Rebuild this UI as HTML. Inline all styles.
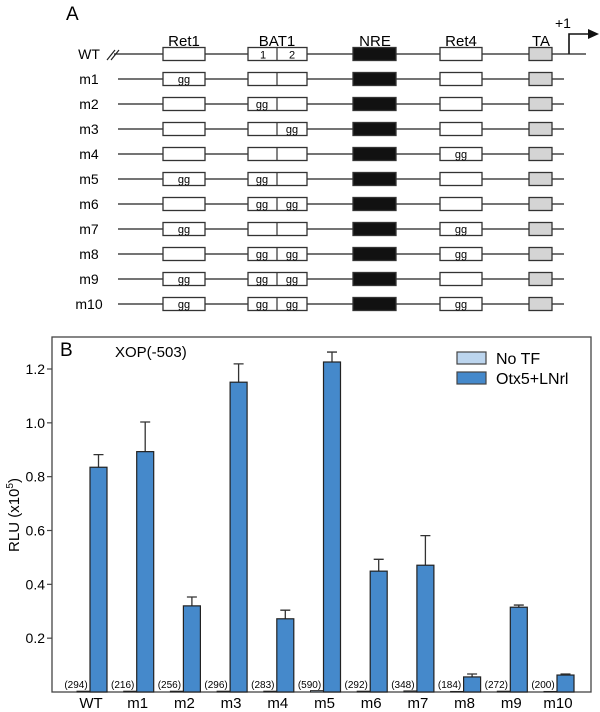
<!DOCTYPE html>
<html><head><meta charset="utf-8"><style>
html,body{margin:0;padding:0;background:#fff;}
svg{display:block;font-family:"Liberation Sans",Arial,sans-serif;}
</style></head><body>
<svg id="fig" width="600" height="712" viewBox="0 0 600 712">
<g id="panelA">
<text x="66" y="20" font-size="19">A</text>
<text x="184" y="46" font-size="15" text-anchor="middle">Ret1</text>
<text x="277" y="46" font-size="15" text-anchor="middle">BAT1</text>
<text x="375" y="46" font-size="15" text-anchor="middle">NRE</text>
<text x="461" y="46" font-size="15" text-anchor="middle">Ret4</text>
<text x="541" y="46" font-size="15" text-anchor="middle">TA</text>
<text x="555" y="28" font-size="14">+1</text>
<path d="M569 54 V34 H590" fill="none" stroke="#111" stroke-width="1.6"/>
<polygon points="588,29 599,34 588,39" fill="#111"/>
</g>
<g id="panelB"></g>
</svg>
<script>
const rowNames=["WT","m1","m2","m3","m4","m5","m6","m7","m8","m9","m10"];
const ret1Mut=[0,1,0,0,0,1,0,1,0,1,1];
const bat1aMut=[0,0,1,0,0,1,1,0,1,1,1];
const bat1bMut=[0,0,0,1,0,0,1,0,1,1,1];
const ret4Mut=[0,0,0,0,1,0,0,1,1,0,1];

const categories=["WT","m1","m2","m3","m4","m5","m6","m7","m8","m9","m10"];
const noTF=[0.003,0.003,0.003,0.003,0.003,0.005,0.003,0.004,0.002,0.003,0.002];
const otx5=[0.835,0.893,0.32,1.151,0.272,1.226,0.449,0.471,0.056,0.315,0.063];
const otx5Err=[0.047,0.11,0.033,0.068,0.032,0.037,0.044,0.11,0.011,0.008,0.004];
const countLabels=["(294)","(216)","(256)","(296)","(283)","(590)","(292)","(348)","(184)","(272)","(200)"];
const yTicks=[0.2,0.4,0.6,0.8,1.0,1.2];

const NS="http://www.w3.org/2000/svg";
function mk(parent,tag,attrs,text){const e=document.createElementNS(NS,tag);for(const k in attrs)e.setAttribute(k,attrs[k]);if(text!==undefined)e.textContent=text;parent.appendChild(e);return e;}

// Panel A
const A=document.getElementById('panelA');
rowNames.forEach((n,i)=>{
  const y=54+i*25;
  const g=mk(A,'g',{});
  
  
  const lbl=mk(g,'text',{x:89,y:y+5,'font-size':14,'text-anchor':'middle'},n);
  
  
  const x0=i===0?114:118, x1=i===0?586:564;
  const ln=mk(g,'line',{x1:x0,y1:y,x2:x1,y2:y,stroke:'#222','stroke-width':1.3});
  
  
  if(i===0){
    const br=mk(g,'path',{d:'M107 60 L115 50 M111 60 L119 50',stroke:'#222','stroke-width':1.2,fill:'none'});
    
    
  }
  const box=(x,w,fill,name)=>{const r=mk(g,'rect',{x:x,y:y-6.5,width:w,height:13,fill:fill,stroke:'#333','stroke-width':1.3});return r;};
  const gg=(cx,name)=>{const t=mk(g,'text',{x:cx,y:y+4,'font-size':11,'text-anchor':'middle'},'gg');};
  box(163,42,'#fff','ret1-box'); if(ret1Mut[i])gg(184,'ret1-mutation');
  box(248,59,'#fff','bat1-box');
  const dv=mk(g,'line',{x1:277,y1:y-6.5,x2:277,y2:y+6.5,stroke:'#333','stroke-width':1.2});
  
  if(i===0){
    const t1=mk(g,'text',{x:263,y:y+4.5,'font-size':11,'text-anchor':'middle'},'1');
    const t2=mk(g,'text',{x:292,y:y+4.5,'font-size':11,'text-anchor':'middle'},'2');
  }
  if(bat1aMut[i])gg(262,'bat1-site-1-mutation');
  if(bat1bMut[i])gg(292,'bat1-site-2-mutation');
  box(353,43,'#111','nre-box');
  box(440,42,'#fff','ret4-box'); if(ret4Mut[i])gg(461,'ret4-mutation');
  box(529,23,'#d4d4d4','ta-box');
});

// Panel B
const B=document.getElementById('panelB');
const L=52,R=591,T=337,Bot=692;
const yS=v=>Bot-v*(Bot-369)/1.2;
const xS=i=>90+i*46.7;
const frame=mk(B,'rect',{x:L,y:T,width:R-L,height:Bot-T,fill:'none',stroke:'#444','stroke-width':1.3});

const bl=mk(B,'text',{x:60,y:356,'font-size':19},'B');

const ti=mk(B,'text',{x:115,y:357,'font-size':15},'XOP(-503)');

yTicks.forEach(v=>{
  const y=yS(v);
  const tk=mk(B,'line',{x1:L-5,y1:y,x2:L,y2:y,stroke:'#444','stroke-width':1.2});
  
  const tl=mk(B,'text',{x:L-7,y:y+5,'font-size':14,'text-anchor':'end'},v.toFixed(1));
  
});
const yt=mk(B,'text',{x:0,y:0,'font-size':15,'text-anchor':'middle',transform:'translate(19,515) rotate(-90)'});

yt.appendChild(document.createTextNode('RLU (x10'));
const sup=mk(yt,'tspan',{'font-size':10,dy:-6},'5');
const cl=mk(yt,'tspan',{dy:6},')');
categories.forEach((c,i)=>{
  const x=xS(i);
  const nb=mk(B,'rect',{x:x-13,y:yS(noTF[i]),width:13,height:Bot-yS(noTF[i]),fill:'#bcd5ee',stroke:'#222','stroke-width':1});
  
  const eTop=yS(otx5[i]+otx5Err[i]);
  const el=mk(B,'path',{d:`M${x+8.5} ${yS(otx5[i])} V${eTop} M${x+3.5} ${eTop} H${x+13.5}`,stroke:'#333','stroke-width':1.3,fill:'none'});
  
  const b=mk(B,'rect',{x:x,y:yS(otx5[i]),width:17,height:Bot-yS(otx5[i]),fill:'#4589cb',stroke:'#222','stroke-width':1.2});
  
  const cn=mk(B,'text',{x:x-14,y:688,'font-size':10,'text-anchor':'middle'},countLabels[i]);
  
  const xl=mk(B,'text',{x:x+1,y:708,'font-size':15,'text-anchor':'middle'},c);
  
});
const lg=mk(B,'g',{});

const s1=mk(lg,'rect',{x:457,y:352,width:29,height:12,fill:'#bcd5ee',stroke:'#444','stroke-width':1.2});

const t1=mk(lg,'text',{x:496,y:364,'font-size':16},'No TF');

const s2=mk(lg,'rect',{x:457,y:372,width:29,height:12,fill:'#4589cb',stroke:'#444','stroke-width':1.2});

const t2=mk(lg,'text',{x:496,y:384,'font-size':16},'Otx5+LNrl');

</script>
</body></html>
